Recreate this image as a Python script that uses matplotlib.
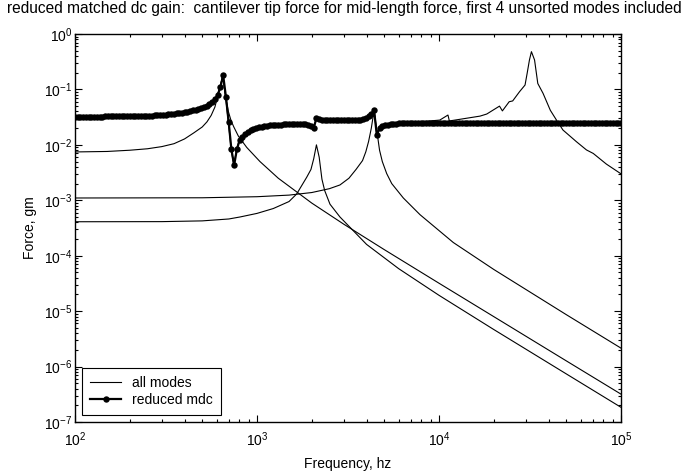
import numpy as np
import matplotlib.pyplot as plt
from matplotlib.ticker import LogLocator, NullFormatter, FixedLocator

plt.rcParams['font.family'] = ['Liberation Sans', 'DejaVu Sans']
plt.rcParams['font.size'] = 10
plt.rcParams['mathtext.default'] = 'regular'

# analysis frequency grid of the reduced model (200 log-spaced points, 100 Hz .. 100 kHz)
freq = np.logspace(2, 5, 200)

# reduced matched dc gain model (gm)
mdc = [
    .0322, .0322, .0322, .0322, .0323, .0323, .0323, .0323, .0324, .0324,
    .0324, .0325, .0325, .0325, .0326, .0326, .0327, .0327, .0328, .0328,
    .0329, .0330, .0331, .0332, .0333, .0334, .0335, .0336, .0337, .0339,
    .0340, .0343, .0346, .0350, .0354, .0358, .0363, .0368, .0374, .0381,
    .0389, .0398, .0408, .0419, .0431, .0445, .0460, .0480, .0510, .0550,
    .0590, .0660, .0790, .1100, .1800, .0740, .0260, .0083, .0043, .0083,
    .0122, .0140, .0155, .0170, .0182, .0192, .0200, .0207, .0212, .0217,
    .0221, .0224, .0227, .0229, .0231, .0232, .0233, .0234, .0235, .0235,
    .0236, .0236, .0236, .0235, .0233, .0229, .0221, .0204, .0300, .0292,
    .0286, .0282, .0280, .0279, .0278, .0277, .0276, .0276, .0276, .0276,
    .0277, .0278, .0280, .0282, .0286, .0291, .0300, .0325, .0365, .0420,
    .0151, .0200, .0216, .0226, .0232, .0236, .0239, .0241, .0243, .0244,
    .0245, .0246, .0246, .0246, .0246, .0246, .0246, .0246, .0246, .0246,
    .0246, .0246, .0246, .0246, .0246, .0246, .0246, .0246, .0246, .0246,
    .0247, .0247, .0247, .0247, .0247, .0247, .0247, .0247, .0247, .0247,
    .0247, .0247, .0247, .0247, .0247, .0247, .0247, .0247, .0247, .0247,
    .0247, .0247, .0247, .0247, .0247, .0247, .0247, .0247, .0247, .0247,
    .0247, .0247, .0247, .0247, .0247, .0247, .0247, .0247, .0247, .0247,
    .0247, .0247, .0247, .0247, .0247, .0247, .0247, .0247, .0247, .0247,
    .0247, .0247, .0247, .0247, .0247, .0247, .0247, .0247, .0247, .0247,
]

# full model, all modes
f_all = [100, 200, 300, 400, 475, 524, 564, 584, 605, 627,
         649, 672, 696, 721, 746, 773, 800, 858, 920, 1000,
         1131, 1345, 1599, 1845, 1979, 2049, 2121, 2196, 2274, 2687,
         3195, 3799, 3962, 4103, 4247, 4398, 4553, 4714, 4881, 5054,
         5370, 6385, 7864, 10100, 11200, 11400, 13100, 16800, 18300, 21500,
         22300, 24300, 25400, 27700, 29700, 30500, 31400, 32200, 33500, 34900,
         37300, 40900, 44200, 48000, 56900, 64600, 70400, 83100, 100000]
all_modes = [.0322, .0329, .0345, .0389, .0445, .051, .059, .066, .079, .110,
             .180, .074, .026, .0083, .0043, .0083, .0122, .0155, .0182, .0205,
             .0221, .0232, .0236, .0233, .0221, .0204, .0300, .0292, .0286, .0277,
             .0277, .0291, .0300, .0325, .0365, .0420, .0151, .0200, .0216, .0226,
             .0237, .0245, .026, .028, .0345, .027, .029, .033, .036, .050,
             .041, .060, .062, .091, .12, .195, .34, .48, .34, .128,
             .085, .042, .028, .0185, .0114, .0081, .0070, .0045, .0030]

# single mode contributions
f_m1 = [100, 150, 200, 250, 300, 350, 400, 450, 500, 531, 560, 587, 611, 630,
        649, 672, 696, 721, 746, 789, 878, 1038, 1309, 2000, 3000, 5000,
        10000, 20000, 50000, 100000]
mode1 = [7.45e-3, 7.6e-3, 8.0e-3, 8.5e-3, 9.3e-3, 1.05e-2, 1.28e-2, 1.65e-2, 2.1e-2,
         2.6e-2, 3.4e-2, 4.8e-2, 8.0e-2, 1.2e-1, 1.75e-1, 7.5e-2, 4.0e-2, 2.7e-2,
         2.1e-2, 1.45e-2, 9.0e-3, 5.0e-3, 2.5e-3, 8.9e-4, 3.7e-4, 1.29e-4,
         3.19e-5, 7.96e-6, 1.27e-6, 3.18e-7]

f_m2 = [100, 300, 500, 700, 807, 1000, 1229, 1500, 1652, 1875, 1979, 2049, 2121,
        2196, 2274, 2354, 2518, 2856, 4000, 6000, 10000, 20000, 50000, 100000]
mode2 = [4.1e-4, 4.12e-4, 4.25e-4, 4.6e-4, 5.0e-4, 5.8e-4, 7.1e-4, 9.5e-4, 1.3e-3,
         2.6e-3, 3.6e-3, 5.6e-3, 1.0e-2, 6.0e-3, 2.4e-3, 1.5e-3, 8.5e-4, 5.0e-4,
         1.6e-4, 5.85e-5, 1.93e-5, 4.66e-6, 7.39e-7, 1.84e-7]

f_m3 = [100, 500, 1000, 1500, 2000, 2500, 2856, 3200, 3500, 3800, 3962, 4103,
        4247, 4398, 4553, 4714, 4881, 5160, 5500, 6368, 7864, 11985, 20000,
        50000, 100000]
mode3 = [1.10e-3, 1.11e-3, 1.16e-3, 1.24e-3, 1.38e-3, 1.62e-3, 1.89e-3, 2.5e-3,
         3.6e-3, 5.2e-3, 7.5e-3, 1.15e-2, 2.0e-2, 4.2e-2, 1.8e-2, 8.0e-3, 5.0e-3,
         3.03e-3, 2.0e-3, 1.1e-3, 5.5e-4, 1.73e-4, 5.65e-5, 8.66e-6, 2.15e-6]

xticks = [1e2, 1e3, 1e4, 1e5]
yticks = [1e-7, 1e-6, 1e-5, 1e-4, 1e-3, 1e-2, 1e-1, 1e0]

fig = plt.figure(figsize=(6.88, 4.73), dpi=100)
ax = fig.add_axes([75/688, 51/473, 546/688, 388/473])

ax.loglog(f_all, all_modes, 'k-', lw=0.8, label='all modes')
ax.loglog(f_m1, mode1, 'k-', lw=0.8)
ax.loglog(f_m2, mode2, 'k-', lw=0.8)
ax.loglog(f_m3, mode3, 'k-', lw=0.8)
ax.loglog(freq, mdc, 'k-', marker='o', ms=4.6, mew=0, lw=1.6, label='reduced mdc')

ax.set_xlim(1e2, 1e5)
ax.set_ylim(1e-7, 1e0)
ax.xaxis.set_major_locator(FixedLocator(xticks))
ax.yaxis.set_major_locator(FixedLocator(yticks))
ax.xaxis.set_minor_locator(LogLocator(base=10, subs=np.arange(2, 10), numticks=100))
ax.yaxis.set_minor_locator(LogLocator(base=10, subs=np.arange(2, 10), numticks=100))
ax.xaxis.set_minor_formatter(NullFormatter())
ax.yaxis.set_minor_formatter(NullFormatter())
ax.tick_params(which='both', direction='in', top=True, right=True, width=0.8)
ax.tick_params(which='major', length=5)
ax.tick_params(which='minor', length=2.5)
ax.tick_params(axis='x', which='major', pad=6)
ax.tick_params(axis='y', which='major', pad=2)
for s in ax.spines.values():
    s.set_linewidth(1.0)

ax.set_xlabel('Frequency, hz')
ax.set_ylabel('Force, gm')
ax.xaxis.set_label_coords(0.5, -0.09)
ax.yaxis.set_label_coords(-0.07, 0.5)

fig.text(0.5, 1 - 9/473, 'reduced matched dc gain:  cantilever tip force for mid-length force, '
         'first 4 unsorted modes included', ha='center', va='center', fontsize=11.2)

leg = ax.legend(loc='lower left', fancybox=False, edgecolor='black', framealpha=1,
                handlelength=2.2, handletextpad=0.8, labelspacing=0.2,
                borderpad=0.6, numpoints=1, borderaxespad=0.5)
leg.get_frame().set_linewidth(0.8)

fig.savefig('out.png', dpi=100)
